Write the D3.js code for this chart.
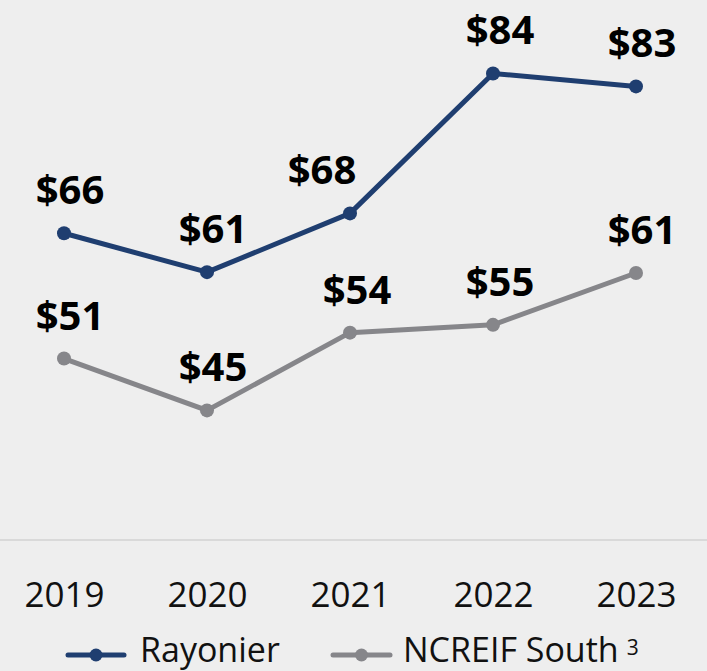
<!DOCTYPE html>
<html>
<head>
<meta charset="utf-8">
<script src="https://cdn.jsdelivr.net/npm/d3@7"></script>
<style>
  html, body { margin: 0; padding: 0; background: #eeeeee; }
  svg { display: block; }
</style>
</head>
<body>
<div id="chart"></div>
<script>
// Data
const years = ["2019", "2020", "2021", "2022", "2023"];
const rayonier = [65.5, 61, 67.8, 84, 82.5];
const ncreif = [51, 45, 54, 54.9, 60.9];
const seriesNames = ["Rayonier", "NCREIF South"];
const seriesColors = ["#1f3e70", "#86868a"];

const width = 707;
const height = 671;

const svg = d3.select("#chart")
    .append("svg")
    .attr("width", width)
    .attr("height", height);

svg.append("rect")
    .attr("width", width)
    .attr("height", height)
    .attr("fill", "#eeeeee");

const x = d3.scalePoint()
    .domain(years)
    .range([64, 636]);

const y = d3.scaleLinear()
    .domain([30, 92.5])
    .range([540, 0]);

// Baseline
svg.append("line")
    .attr("x1", 0)
    .attr("x2", width)
    .attr("y1", y(30))
    .attr("y2", y(30))
    .attr("stroke", "#d9d9d9")
    .attr("stroke-width", 2);

// Year labels
const xAxis = d3.axisBottom(x).tickSize(0).tickPadding(0);
const axisG = svg.append("g")
    .attr("transform", "translate(0,580)")
    .call(xAxis);
axisG.select(".domain").remove();
axisG.selectAll("text")
    .attr("dy", null)
    .attr("y", 27)
    .attr("font-family", "'Open Sans', sans-serif")
    .attr("font-size", "35px")
    .attr("fill", "#111");

const series = [rayonier, ncreif];
const line = d3.line()
    .x((d, i) => x(years[i]))
    .y(d => y(d));

// the 2021 Rayonier label sits left of its point, clear of the rising line
const labelShift = [[6, 6, -28, 7, 6], [6, 6, 7, 7, 6]];

series.forEach((vals, s) => {
    const g = svg.append("g");
    g.append("path")
        .datum(vals)
        .attr("d", line)
        .attr("fill", "none")
        .attr("stroke", seriesColors[s])
        .attr("stroke-width", 5)
        .attr("stroke-linejoin", "round");

    g.selectAll("circle")
        .data(vals)
        .join("circle")
        .attr("cx", (d, i) => x(years[i]))
        .attr("cy", d => y(d))
        .attr("r", 7)
        .attr("fill", seriesColors[s]);

    g.selectAll("text")
        .data(vals)
        .join("text")
        .attr("x", (d, i) => x(years[i]) + labelShift[s][i])
        .attr("y", d => y(d) - 29)
        .attr("text-anchor", "middle")
        .attr("font-family", "'Open Sans', sans-serif")
        .attr("font-weight", "bold")
        .attr("font-size", "40px")
        .attr("fill", "#000")
        .text(d => "$" + Math.round(d));
});

// Legend
const legendItems = [
    { x1: 68, x2: 124, text: 140 },
    { x1: 333, x2: 390, text: 403 }
];
const legendY = 655;
legendItems.forEach((it, s) => {
    svg.append("line")
        .attr("x1", it.x1)
        .attr("x2", it.x2)
        .attr("y1", legendY)
        .attr("y2", legendY)
        .attr("stroke", seriesColors[s])
        .attr("stroke-width", 5)
        .attr("stroke-linecap", "round");
    svg.append("circle")
        .attr("cx", (it.x1 + it.x2) / 2)
        .attr("cy", legendY)
        .attr("r", 6.5)
        .attr("fill", seriesColors[s]);
    const t = svg.append("text")
        .attr("x", it.text)
        .attr("y", 662)
        .attr("font-family", "'Open Sans', sans-serif")
        .attr("font-size", "34px")
        .attr("fill", "#111")
        .text(seriesNames[s]);
    if (s === 1) {
        const end = it.text + t.node().getComputedTextLength();
        svg.append("text")
            .attr("x", end + 8)
            .attr("y", 655)
            .attr("font-family", "'Open Sans', sans-serif")
            .attr("font-size", "21px")
            .attr("fill", "#111")
            .text("3");
    }
});
</script>
</body>
</html>
